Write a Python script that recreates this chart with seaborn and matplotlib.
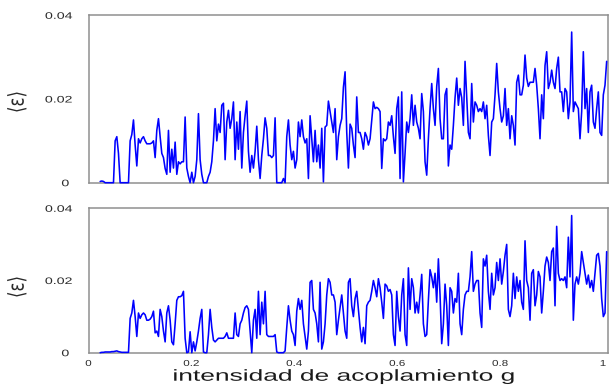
import numpy as np
import pandas as pd
import matplotlib
matplotlib.use("Agg")
import matplotlib.pyplot as plt
import matplotlib.patheffects as pe
from matplotlib.transforms import Affine2D
import seaborn as sns

# coupling strength g: evenly spaced samples
g_first, g_last, n_samples = 0.02265, 1.0071, 305

# time-averaged error <eps> in units of 1e-3, upper run
eps_top_milli = [
    0.3, 0.4, 0.3, 0, 0, 0, 0, 0, 0, 10,
    11, 7, 0, 0, 0, 0, 0, 0, 10, 11.5,
    15, 9, 4, 10.5, 9.5, 10.5, 11, 10, 9.3, 9.3,
    9.3, 9.5, 10, 6, 12.5, 15.3, 11, 7, 6, 3.4,
    2, 12.5, 2.5, 8, 3.5, 9.7, 2, 5, 4.5, 5,
    5, 15.7, 3.5, 1.5, 0, 2.5, 0, 1.5, 5.5, 16.5,
    5.5, 2, 0, 0, 0, 1.5, 2.5, 5, 10, 17.7,
    10, 14, 12, 18.5, 19, 5.5, 14.5, 17.3, 13, 15.3,
    19.3, 5.5, 14.5, 8, 17, 3.5, 12, 16, 19.5, 7.5,
    2.5, 6.5, 3.5, 7.5, 13.5, 5.5, 1, 6.5, 10.5, 15.5,
    13, 6.5, 6.5, 6, 6.5, 15.5, 0, 0, 0, 0,
    1, 0, 11, 15, 9, 5.5, 7.5, 3.5, 5.5, 14.5,
    11, 15, 11, 9.5, 10.5, 1, 16, 10.5, 5, 12.5,
    5, 9, 3.5, 13, 0.2, 13.3, 13.7, 19.5, 17, 14.5,
    12, 17.7, 5.5, 11, 13.7, 15.3, 22.8, 26.5, 12, 3.5,
    14, 13, 9, 6, 20.5, 12, 12, 10.5, 8, 12,
    11, 9, 10.5, 15, 19.3, 17.7, 18, 17.7, 17, 3.4,
    10.5, 10, 10.5, 14.5, 13.7, 16, 11, 7, 17.7, 20.5,
    1, 21.7, 0.2, 7, 14.5, 12, 15.3, 21, 13.7, 18.5,
    14.5, 13, 10.5, 21.3, 17, 5, 1.8, 10.5, 17.7, 23.7,
    17.7, 13.7, 23, 27.3, 15.3, 10.5, 10.5, 21, 22.5, 4,
    9, 8, 13.7, 20.3, 25, 18.5, 22.5, 20.3, 13.7, 29,
    20.3, 12, 10.5, 23.7, 14.5, 19.3, 18.5, 17, 17.7, 17,
    19.3, 15.3, 18.5, 11.3, 6.5, 14.5, 15.3, 21, 28.5, 21.7,
    17.7, 14.5, 16, 22.5, 13.7, 17.7, 10.5, 16, 13.7, 9,
    24, 25.7, 21, 21, 23.3, 30.5, 25, 23, 24, 24,
    24, 27.3, 23.3, 17.7, 10.5, 21, 15.3, 28, 31.3, 22.5,
    24, 26.9, 24, 22.5, 27.3, 30, 21.7, 21.7, 17, 22.5,
    21.7, 15.3, 19.3, 36, 17, 19.3, 18.5, 17.7, 10.5, 17,
    31.3, 17.7, 22.5, 12, 21.7, 23.3, 14.5, 13, 17.7, 21.7,
    12, 11.3, 21, 23.3, 29,
]

# time-averaged error <eps> in units of 1e-3, lower run
eps_bottom_milli = [
    0, 0.1, 0.1, 0.2, 0.2, 0.2, 0.2, 0.3, 0.3, 0.4,
    0.5, 0.3, 0.2, 0.1, 0.1, 0.1, 0.1, 0.1, 9.5, 11,
    14.5, 10, 4.5, 11, 9.5, 10.5, 11, 10.5, 9, 9,
    9.3, 10, 11.5, 5.5, 6, 4.5, 12, 10, 6, 3,
    11, 13, 9, 3, 2.2, 8, 14.5, 15.5, 15.5, 15.8,
    17, 4, 0, 0.2, 5.8, 0, 3, 0.5, 3, 6,
    9.5, 12, 0.2, 0, 0, 5, 12, 7, 3.5, 3,
    3.5, 4, 4, 4, 4, 4.5, 5.5, 4, 4, 4,
    4, 11, 5, 4.5, 8, 9, 11, 12.5, 13, 12,
    6, 0, 9, 12, 4, 17, 5, 14, 8, 17,
    5, 4.5, 4.5, 4.5, 4.5, 5, 0.2, 0, 0, 0,
    0, 0.5, 7, 13, 9, 6, 5, 2, 11.5, 15,
    12, 14.5, 8, 4.5, 1, 6, 19.5, 20, 12, 11,
    8, 3, 19.5, 1, 3, 8, 16, 20.5, 19.5, 16,
    16, 14, 5, 9, 12.5, 16, 11, 6, 4, 19.5,
    20.5, 13, 10, 15, 17, 12, 7, 3, 7, 2.5,
    13, 14, 14.5, 17, 20, 18, 15.5, 20.5, 18, 14,
    9.5, 19, 18.5, 17, 17.5, 16, 5, 2, 17, 10,
    6, 16, 20.5, 5, 2, 23.5, 12, 20.5, 18, 11,
    14, 11, 16, 21.7, 8, 4.5, 5, 14.5, 23, 21,
    18, 22, 14, 26, 16, 2.5, 8, 19, 13, 2,
    18, 17, 11, 15, 14, 22, 8, 5, 12, 16,
    17, 17, 21, 28, 17, 19, 20, 20, 11, 7,
    26, 24, 27, 17, 12, 22, 16, 18, 25, 20,
    26, 19, 22.5, 27, 30, 12, 10, 13, 22, 15,
    21, 17, 20, 14, 12, 31, 20, 18, 9, 22,
    23, 13, 16, 22.5, 21, 11, 17, 24, 26.5, 25,
    20, 28, 29, 13, 35, 22, 20, 20.5, 20, 21,
    18, 32, 21, 38, 9, 19, 21, 19, 22, 28,
    25, 22, 19, 21.5, 18, 20, 17, 22, 27, 27.5,
    24, 15, 10, 11, 28,
]

y_ticks = [0, 0.02, 0.04]
y_tick_labels = ["0", "0.02", "0.04"]
x_ticks = [0, 0.2, 0.4, 0.6, 0.8, 1.0]
x_tick_labels = ["0", "0.2", "0.4", "0.6", "0.8", "1"]
x_label = "intensidad de acoplamiento g"
y_label = "\u27e8\u03b5\u27e9"


class HStretch(pe.AbstractPathEffect):
    """Widen text horizontally about its own centre."""

    def __init__(self, sx):
        super().__init__()
        self.sx = sx

    def draw_path(self, renderer, gc, tpath, affine, rgbFace=None):
        ext = tpath.get_extents(affine)
        cx = 0.5 * (ext.x0 + ext.x1)
        aff = affine + Affine2D().translate(-cx, 0).scale(self.sx, 1).translate(cx, 0)
        renderer.draw_path(gc, tpath, aff, rgbFace)


sns.set_style("white")
plt.rcParams["font.family"] = ["Liberation Sans", "DejaVu Sans"]

g = np.linspace(g_first, g_last, n_samples)
df_top = pd.DataFrame({"g": g, "eps": np.array(eps_top_milli) * 1e-3})
df_bot = pd.DataFrame({"g": g, "eps": np.array(eps_bottom_milli) * 1e-3})

W, H = 611, 387
fig = plt.figure(figsize=(W / 100, H / 100), dpi=100)
left, right = 88.5, 608.0
ax_top = fig.add_axes([left / W, 1 - 182.7 / H, (right - left) / W, 167.4 / H])
ax_bot = fig.add_axes([left / W, 1 - 352.7 / H, (right - left) / W, 144.4 / H])

spine_col = "#8f8f8f"
text_col = "#2a2a2a"

for ax, df in ((ax_top, df_top), (ax_bot, df_bot)):
    sns.lineplot(data=df, x="g", y="eps", ax=ax, color="#0000ff",
                 linewidth=1.15, estimator=None, zorder=3, clip_on=False)
    ax.set_xlim(0, 1.0097)
    ax.set_ylim(0, 0.04)
    for s in ax.spines.values():
        s.set_color(spine_col)
        s.set_linewidth(1.1)
    ax.set_yticks(y_ticks, y_tick_labels)
    ax.tick_params(axis="y", direction="in", length=4, width=0.9, color=spine_col,
                   labelsize=6.8, pad=14.8, labelcolor=text_col)
    for lbl in ax.get_yticklabels():
        lbl.set_path_effects([HStretch(1.5)])
    ax.set_ylabel(y_label, fontsize=12, color=text_col, rotation=90,
                  ha="center", va="center", family=["DejaVu Sans"])
    ax.yaxis.label.set_path_effects([HStretch(1.3)])

ax_top.set_xticks([])
ax_top.set_xlabel("")
ax_top.yaxis.set_label_coords(-0.1376, 0.482)

ax_bot.set_xticks(x_ticks, x_tick_labels)
ax_bot.tick_params(axis="x", direction="in", length=3, width=0.9, color="#333333",
                   labelsize=6.2, pad=4.5, labelcolor=text_col)
for lbl in ax_bot.get_xticklabels():
    lbl.set_path_effects([HStretch(1.35)])
ax_bot.yaxis.set_label_coords(-0.1376, 0.455)
ax_bot.set_xlabel(x_label, fontsize=11.5, color="#1a1a1a", va="baseline")
ax_bot.xaxis.label.set_path_effects([HStretch(1.65)])
ax_bot.xaxis.set_label_coords(0.492, -0.194)

fig.savefig("out.png", dpi=100)
